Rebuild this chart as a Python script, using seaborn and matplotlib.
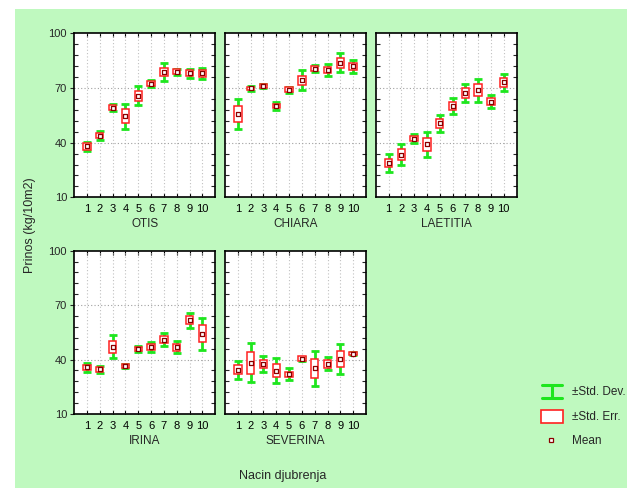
import numpy as np
import pandas as pd
import matplotlib
matplotlib.use('Agg')
import matplotlib.pyplot as plt
import seaborn as sns
from matplotlib.patches import Rectangle
from matplotlib.lines import Line2D
from matplotlib.ticker import FixedLocator

sns.set_style('white')
plt.rcParams['font.family'] = ['Liberation Sans', 'DejaVu Sans']

# ---------------- data ----------------
treatments = [1, 2, 3, 4, 5, 6, 7, 8, 9, 10]
tick_labels = ['1', '2', '3', '4', '5', '6', '7', '8', '9', '10']
varieties = ['OTIS', 'CHIARA', 'LAETITIA', 'IRINA', 'SEVERINA']

otis_mean = [38.0, 43.8, 59.3, 54.6, 65.8, 72.5, 78.9, 78.9, 78.1, 78.1]
otis_sd = [2.5, 2.4, 1.8, 6.8, 5.2, 1.8, 4.8, 1.8, 2.4, 3.0]
otis_se = [1.8, 1.4, 1.5, 3.7, 2.7, 1.3, 2.4, 1.4, 1.7, 2.0]

chiara_mean = [55.7, 69.8, 71.1, 60.2, 69.1, 74.3, 80.7, 79.9, 83.9, 81.9]
chiara_sd = [8.3, 1.2, 1.2, 2.2, 1.7, 5.5, 1.8, 3.4, 5.3, 3.4]
chiara_se = [4.6, 1.0, 1.0, 1.2, 1.3, 2.6, 1.5, 1.8, 2.7, 2.1]

laetitia_mean = [28.8, 33.5, 42.3, 39.1, 50.7, 60.2, 67.3, 68.7, 62.6, 73.1]
laetitia_sd = [4.9, 5.9, 2.5, 7.0, 4.6, 4.3, 4.9, 6.2, 3.6, 4.9]
laetitia_se = [2.3, 3.2, 1.3, 3.4, 2.4, 2.4, 2.6, 3.3, 2.1, 2.4]

irina_mean = [35.7, 34.6, 47.1, 36.4, 45.8, 46.9, 51.0, 46.7, 61.7, 54.3]
irina_sd = [2.3, 1.8, 6.4, 1.0, 1.6, 2.8, 3.7, 3.3, 4.1, 8.8]
irina_se = [1.5, 1.3, 3.3, 1.0, 1.2, 1.8, 2.0, 1.8, 2.2, 4.8]

severina_mean = [34.4, 38.2, 37.6, 33.9, 32.0, 40.4, 35.3, 37.6, 40.4, 43.3]
severina_sd = [5.0, 10.8, 4.2, 6.8, 3.1, 1.2, 9.6, 3.6, 8.3, 1.0]
severina_se = [2.5, 5.9, 2.2, 3.6, 1.4, 1.3, 5.2, 2.0, 4.5, 1.0]

y_ticks = [10, 40, 70, 100]

means = [otis_mean, chiara_mean, laetitia_mean, irina_mean, severina_mean]
sds = [otis_sd, chiara_sd, laetitia_sd, irina_sd, severina_sd]
ses = [otis_se, chiara_se, laetitia_se, irina_se, severina_se]

# ---------------- style ----------------
W, H = 627, 488
BG = '#bff9bf'
SD_COL = '#1ee61e'
SE_COL = '#ff2020'
MEAN_COL = '#8b0000'

fig = plt.figure(figsize=(W / 100, H / 100), dpi=100, facecolor='white')
fig.patches.append(Rectangle((15 / W, 0), 1 - 15 / W, 1 - 9 / H,
                             transform=fig.transFigure, facecolor=BG,
                             edgecolor='none', zorder=-10))


def px_axes(x0, y0, x1, y1):
    return fig.add_axes([x0 / W, 1 - y1 / H, (x1 - x0) / W, (y1 - y0) / H])


cols_x = [(74, 215.3), (225, 366), (375.7, 516.5)]
rows_y = [(33.5, 197.3), (250.7, 414)]
positions = [(0, 0), (0, 1), (0, 2), (1, 0), (1, 1)]

for i, name in enumerate(varieties):
    r, c = positions[i]
    ax = px_axes(cols_x[c][0], rows_y[r][0], cols_x[c][1], rows_y[r][1])
    ax.set_facecolor('white')
    m = np.array(means[i])
    sd = np.array(sds[i])
    se = np.array(ses[i])

    ax.errorbar(treatments, m, yerr=sd, fmt='none', ecolor=SD_COL,
                elinewidth=2.0, capsize=3.2, capthick=2.0, zorder=3)
    ax.bar(treatments, 2 * se, bottom=m - se, width=0.58, facecolor='white',
           edgecolor=SE_COL, linewidth=1.1, zorder=4)
    df = pd.DataFrame({'x': treatments, 'y': m})
    sns.scatterplot(data=df, x='x', y='y', ax=ax, marker='s', s=11,
                    color='white', edgecolor=MEAN_COL, linewidth=0.9,
                    zorder=5, legend=False)

    ax.set_xlim(0, 11)
    ax.set_ylim(10, 100)
    # grid
    for t in treatments:
        ax.axvline(t, color='#c0c0c0', lw=0.8, ls=(0, (1, 2)), zorder=1)
    for yv in [40, 70]:
        ax.axhline(yv, color='#a0a0a0', lw=0.8, ls=(0, (1, 2)), zorder=1)

    ax.set_xticks(treatments)
    ax.set_xticklabels(tick_labels)
    ax.tick_params(axis='x', direction='in', length=3, width=0.8,
                   top=True, bottom=True, labelsize=8, pad=5, colors='black')
    ax.yaxis.set_major_locator(FixedLocator(y_ticks))
    ax.yaxis.set_minor_locator(FixedLocator(list(range(10, 101, 6))))
    ax.tick_params(axis='y', which='minor', direction='in', length=3,
                   width=0.8, left=True, right=True)
    if c == 0:
        ax.tick_params(axis='y', which='major', direction='out', length=3,
                       width=0.8, labelsize=8, left=True, right=False, pad=2)
    else:
        ax.tick_params(axis='y', which='major', length=0, labelleft=False)
    ax.set_xlabel(name, fontsize=8.5, labelpad=3)
    ax.set_ylabel('')
    for s in ax.spines.values():
        s.set_color('black')
        s.set_linewidth(1.2)

fig.text(30 / W, 1 - 225 / H, 'Prinos (kg/10m2)', rotation=90, ha='center',
         va='center', fontsize=9)
fig.text(283 / W, 1 - 476 / H, 'Nacin djubrenja', ha='center', va='center',
         fontsize=9)

# ---------------- legend ----------------
lg = fig.add_axes([0, 0, 1, 1], facecolor='none')
lg.set_xlim(0, W)
lg.set_ylim(H, 0)
lg.axis('off')
# std dev I-beam
lg.add_line(Line2D([542, 562], [384.5, 384.5], color=SD_COL, lw=2.2))
lg.add_line(Line2D([542, 562], [397.5, 397.5], color=SD_COL, lw=2.2))
lg.add_line(Line2D([552, 552], [384.5, 397.5], color=SD_COL, lw=2.2))
lg.text(572, 392, '±Std. Dev.', fontsize=8.5, va='center', ha='left')
# std err box
lg.add_patch(Rectangle((541, 410), 22, 13, facecolor='white',
                       edgecolor=SE_COL, lw=1.2))
lg.text(572, 417, '±Std. Err.', fontsize=8.5, va='center', ha='left')
# mean
lg.plot([550.5], [440], marker='s', ms=3.5, mfc='white', mec=MEAN_COL,
        mew=0.9, ls='none')
lg.text(572, 441, 'Mean', fontsize=8.5, va='center', ha='left')

fig.savefig('out.png', dpi=100, facecolor=fig.get_facecolor())
